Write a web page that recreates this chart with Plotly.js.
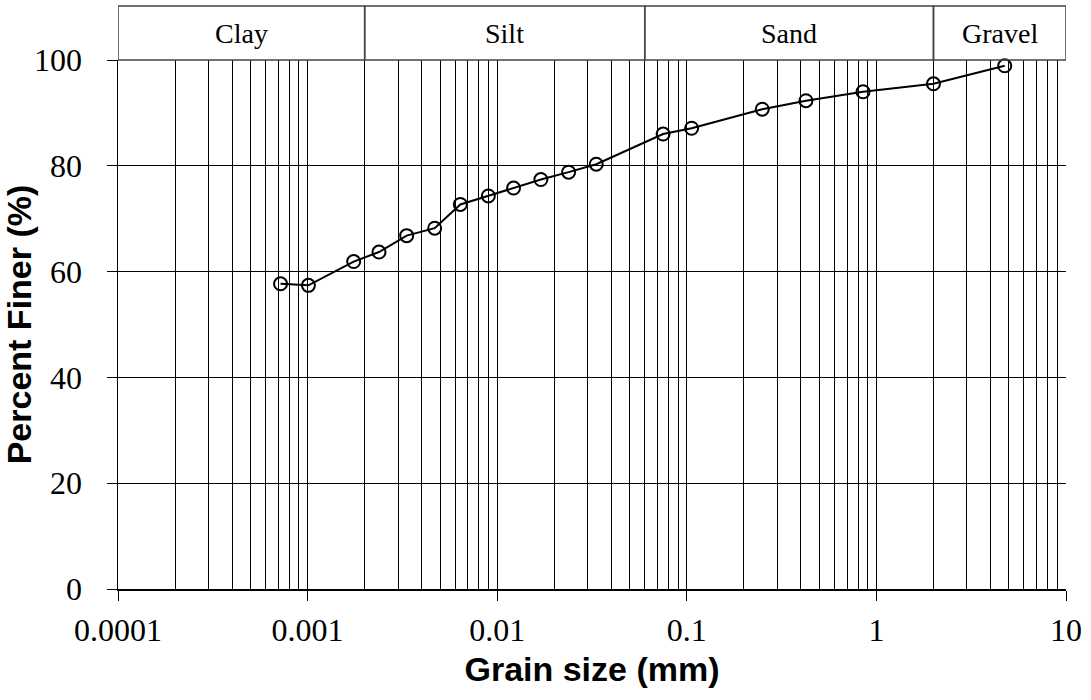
<!DOCTYPE html>
<html>
<head>
<meta charset="utf-8">
<script src="https://cdn.plot.ly/plotly-3.0.1.min.js"></script>
<style>html,body{margin:0;padding:0;background:#fff;}#chart{width:1091px;height:700px;}</style>
</head>
<body>
<div id="chart"></div>
<script>
// Grain size distribution data
const grainSize = [0.00072, 0.00101, 0.00175, 0.00238, 0.00333, 0.00468, 0.00639, 0.00898, 0.0122, 0.0170, 0.0238, 0.0333, 0.075, 0.106, 0.25, 0.425, 0.85, 2.0, 4.75];
const percentFiner = [57.7, 57.4, 61.9, 63.7, 66.8, 68.2, 72.7, 74.3, 75.8, 77.4, 78.8, 80.3, 86.0, 87.1, 90.7, 92.3, 94.0, 95.5, 98.9];

// Soil classification bands (grain size limits in mm)
const bandNames = ["Clay", "Silt", "Sand", "Gravel"];
const bandLimits = [0.0001, 0.002, 0.06, 2, 10];

const xTickVals = [0.0001, 0.001, 0.01, 0.1, 1, 10];
const xTickText = ["0.0001", "0.001", "0.01", "0.1", "1", "10"];
const yTickVals = [0, 20, 40, 60, 80, 100];

const serif = "Liberation Serif, Times New Roman, serif";
const sans = "Liberation Sans, Arial, sans-serif";

const shapes = [];
const annotations = [];
for (let i = 0; i < bandNames.length; i++) {
  shapes.push({
    type: "rect", xref: "x", yref: "paper",
    x0: bandLimits[i], x1: bandLimits[i + 1], y0: 1, y1: 1.102,
    line: {color: "#444", width: 1.5}, fillcolor: "rgba(0,0,0,0)"
  });
  annotations.push({
    xref: "x", yref: "paper",
    x: (Math.log10(bandLimits[i]) + Math.log10(bandLimits[i + 1])) / 2,
    y: 1.051, text: bandNames[i], showarrow: false,
    xanchor: "center", yanchor: "middle",
    font: {family: serif, size: 28, color: "#000"}
  });
}

const trace = {
  x: grainSize, y: percentFiner, type: "scatter", mode: "lines+markers",
  line: {color: "#000", width: 2},
  marker: {symbol: "circle-open", size: 13, color: "#000", line: {width: 2, color: "#000"}},
  cliponaxis: false, showlegend: false
};

const layout = {
  width: 1091, height: 700,
  margin: {l: 117.5, r: 25, t: 60, b: 110.7, pad: 0},
  paper_bgcolor: "#fff", plot_bgcolor: "#fff",
  xaxis: {
    type: "log", range: [-4, 1],
    tickvals: xTickVals, ticktext: xTickText,
    ticks: "outside", ticklen: 10, tickcolor: "#000", tickwidth: 1,
    showgrid: true, gridcolor: "#000", gridwidth: 1,
    minor: {dtick: "D1", showgrid: true, gridcolor: "#000", gridwidth: 1, ticks: ""},
    showline: true, linecolor: "#000", linewidth: 1.5,
    zeroline: false,
    tickfont: {family: serif, size: 32, color: "#000"},
    ticklabelstandoff: 2,
    title: {text: "Grain size (mm)", font: {family: sans, size: 34, color: "#000", weight: "bold"}, standoff: 10}
  },
  yaxis: {
    range: [0, 100], tickvals: yTickVals,
    ticks: "outside", ticklen: 10, tickcolor: "#000", tickwidth: 1,
    showgrid: true, gridcolor: "#000", gridwidth: 1,
    showline: true, linecolor: "#000", linewidth: 1.5,
    zeroline: false,
    tickfont: {family: serif, size: 32, color: "#000"},
    ticklabelstandoff: 18,
    title: {text: "Percent Finer (%)", font: {family: sans, size: 34, color: "#000", weight: "bold"}, standoff: 6}
  },
  shapes: shapes,
  annotations: annotations
};

Plotly.newPlot("chart", [trace], layout, {displayModeBar: false, staticPlot: true});
</script>
</body>
</html>
